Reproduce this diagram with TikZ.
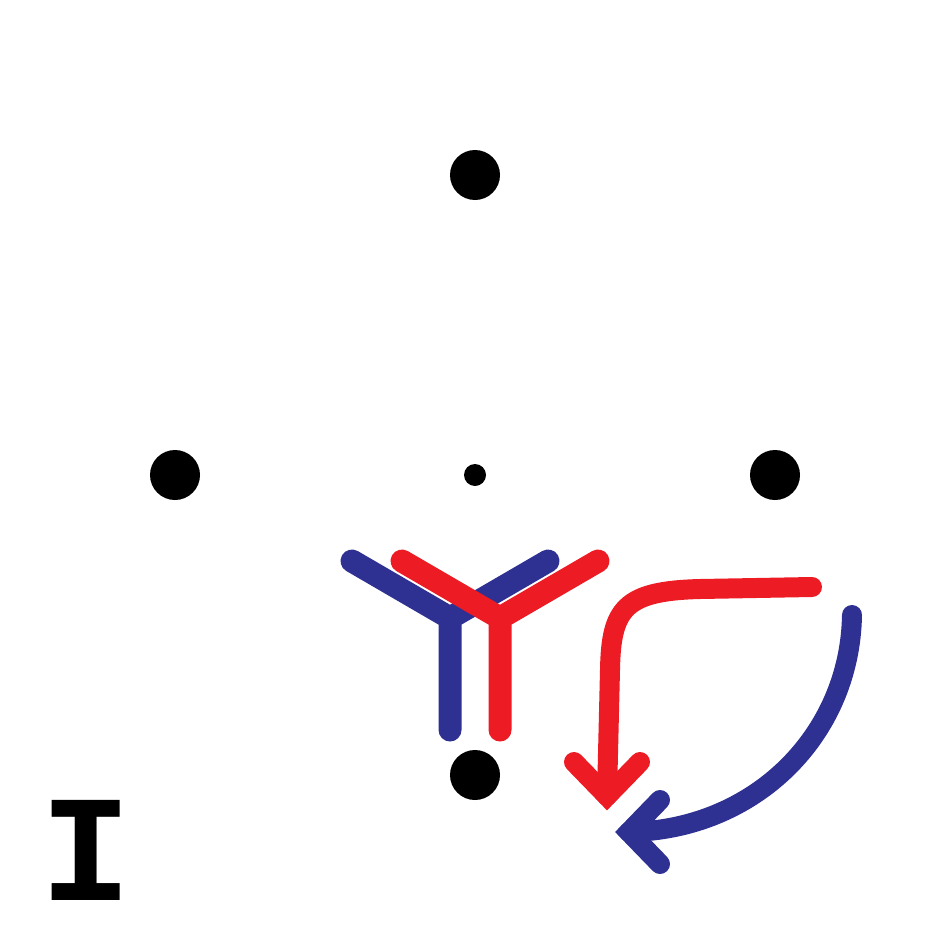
\documentclass[tikz,border=0pt]{standalone}
\usepackage{fontspec}
\newfontfamily\monofont{Liberation Mono}
\definecolor{ablue}{HTML}{2E3192}
\definecolor{ared}{HTML}{ED1C24}
\begin{document}
\begin{tikzpicture}[x=1pt,y=-1pt,
  bigdot/.style={circle,fill=black,inner sep=0pt,minimum size=50pt},
  smalldot/.style={circle,fill=black,inner sep=0pt,minimum size=22pt},
  yshape/.style={line width=23pt,line cap=round,miter limit=10},
  arrline/.style={line width=20pt,line cap=round},
  chevron/.style={line width=20pt,line cap=round,line join=miter,miter limit=10}]
\useasboundingbox (0,0) rectangle (950,950);
\node[bigdot] (top) at (475,175) {};
\node[bigdot] (left) at (175,475) {};
\node[bigdot] (right) at (775,475) {};
\node[bigdot] (bottom) at (475,775) {};
\node[smalldot] (center) at (475,475) {};
% blue Y
\coordinate (bj) at (450,618);
\coordinate (bl) at (352,561);
\coordinate (br) at (548,561);
\coordinate (bs) at (450,730);
\draw[yshape,ablue] (bl) -- (bj) -- (br) (bj) -- (bs);
% red Y
\coordinate (rj) at (500,618);
\coordinate (rl) at (402,561);
\coordinate (rr) at (598,561);
\coordinate (rs) at (500,730);
\draw[yshape,ared] (rl) -- (rj) -- (rr) (rj) -- (rs);
% red arrow
\coordinate (ra) at (812,587);
\coordinate (rb) at (700,589);
\coordinate (rc) at (610,670);
\coordinate (rt) at (607,796);
\draw[arrline,ared] (ra) -- (rb) .. controls (625,591) and (611,608) .. (rc) -- (rt);
\draw[chevron,ared] (574,762) -- (rt) -- (640,762);
% blue arrow
\coordinate (ba) at (852,615);
\coordinate (bt) at (629,832);
\draw[arrline,ablue] (ba) .. controls (850,735) and (755,830) .. (bt);
\draw[chevron,ablue] (660,800) -- (bt) -- (660,864);
% label
\node[anchor=base,inner sep=0pt,font=\monofont\bfseries\fontsize{152}{152}\selectfont] (lab) at (86.5,900) {I};
\end{tikzpicture}
\end{document}
